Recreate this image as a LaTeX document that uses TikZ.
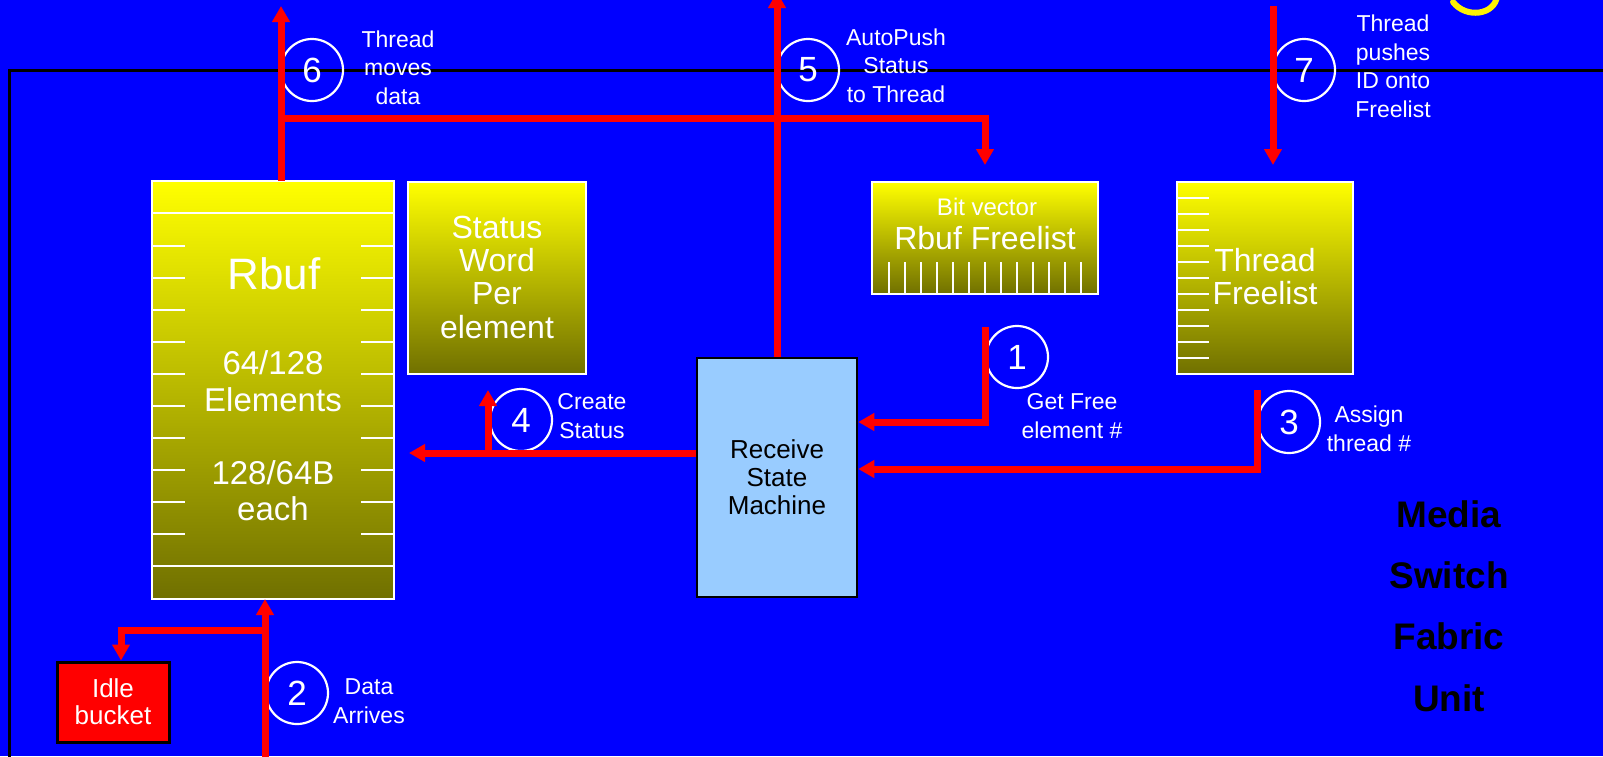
\documentclass[tikz,border=0pt]{standalone}
\usepackage{fontspec}
\setmainfont{Liberation Sans}
\usetikzlibrary{arrows.meta}
\definecolor{bgblue}{RGB}{0,0,255}
\definecolor{olivebot}{RGB}{112,112,0}
\definecolor{rsmblue}{RGB}{153,204,255}
\definecolor{flowred}{RGB}{255,0,0}
\begin{document}
\begin{tikzpicture}[x=1pt,y=-1pt,
  ybox/.style={draw=white, line width=2pt, top color=yellow, bottom color=olivebot, inner sep=0pt, outer sep=0pt},
  wline/.style={draw=white, line width=2pt},
  numc/.style={circle, draw=white, line width=2.2pt, minimum size=62pt, inner sep=0pt, text=white, font=\fontsize{35}{35}\selectfont},
  lbl/.style={text=white, align=center, inner sep=0pt, anchor=base, font=\fontsize{23}{28.5}\selectfont},
  btxt/.style={text=white, align=center, inner sep=0pt, anchor=base},
  flow/.style={draw=flowred, line width=7pt},
  redtip/.style={-{Triangle[length=16pt,width=17pt]}},
]
\useasboundingbox (0,0) rectangle (1603,756);
\fill[bgblue] (0,0) rectangle (1603,756);
\clip (0,0) rectangle (1603,756);

% outer frame
\draw[black, line width=3pt] (1620,70) -- (9,70) -- (9,790);

% partial yellow glyph at top right
\draw[yellow, line width=6pt, line cap=round] (1497,-4) .. controls (1495,15) and (1466,19) .. (1453,2);

% Rbuf
\node[ybox, minimum width=242pt, minimum height=418pt] (rbuf) at (273,390) {};
\draw[wline] (152,213) -- (394,213) (152,566) -- (394,566);
\foreach \yy in {246,278,...,534} {\draw[wline] (152,\yy) -- (185,\yy) (361,\yy) -- (394,\yy);}

% Status word
\node[ybox, minimum width=178pt, minimum height=192pt] (stat) at (497,278) {};

% Rbuf freelist
\node[ybox, minimum width=226pt, minimum height=112pt] (rfl) at (985,238) {};
\foreach \xx in {889,905,...,1081} {\draw[wline] (\xx,262) -- (\xx,294);}

% Thread freelist
\node[ybox, minimum width=176pt, minimum height=192pt] (tfl) at (1265,278) {};
\foreach \yy in {198,214,...,358} {\draw[wline] (1177,\yy) -- (1209,\yy);}

% Receive state machine
\node[draw=black, line width=2.5pt, fill=rsmblue, minimum width=160pt, minimum height=239pt, inner sep=0pt] (rsm) at (777,477.5) {};

% Idle bucket
\node[draw=black, line width=3pt, fill=red, minimum width=112pt, minimum height=80pt, inner sep=0pt] (idle) at (113,702) {};

% numbered circles
\node[numc] (c6) at (312,70) {6};
\node[numc] (c5) at (808,70) {5};
\node[numc] (c7) at (1304,70) {7};
\node[numc] (c1) at (1017,357) {1};
\node[numc] (c3) at (1289,422) {3};
\node[numc] (c4) at (521,420) {4};
\node[numc] (c2) at (297,693) {2};

% connectors
\coordinate (t6) at (281,6);
\coordinate (j6) at (281,118);
\draw[flow, redtip] ([xshift=8pt]rbuf.north) -- (t6);
\draw[flow, redtip] (j6) -| ([yshift=17pt]rfl.north);

\coordinate (t5) at (777,-8);
\draw[flow, redtip] (rsm.north) -- (t5);

\coordinate (s7) at (1273,6);
\draw[flow, redtip] (s7) -- ([xshift=8pt,yshift=17pt]tfl.north);

\coordinate (s1) at (985,327);
\coordinate (k1) at (985,422);
\draw[flow, redtip] (s1) -- (k1) -- (k1 -| rsm.east);

\coordinate (s3) at (1257,390);
\coordinate (k3) at (1257,469);
\draw[flow, redtip] (s3) -- (k3) -- (k3 -| rsm.east);

\coordinate (k4) at (488,453);
\coordinate (t4) at (409,453);
\draw[flow, redtip] (rsm.west |- k4) -- (t4);
\draw[flow, redtip, shorten >=16pt] (k4) -- (k4 |- stat.south);

\coordinate (s2) at (265,790);
\coordinate (k2) at (265,630);
\draw[flow, redtip] (s2) -- ([xshift=-8pt]rbuf.south);
\draw[flow, redtip] (k2) -| ([xshift=8pt]idle.north);

% labels (anchor = baseline of last line)
\node[lbl] (l6) at (398,104) {Thread\\moves\\data};
\node[lbl] (l5) at (896,102) {AutoPush\\Status\\to Thread};
\node[lbl] (l7) at (1393,117) {Thread\\pushes\\ID onto\\Freelist};
\node[lbl] (l1) at (1072,438) {Get Free\\element \#};
\node[lbl] (l3) at (1369,451) {Assign\\thread \#};
\node[lbl] (l4) at (592,438) {Create\\Status};
\node[lbl] (l2) at (369,723) {Data\\Arrives};

% box texts
\node[btxt, font=\fontsize{44}{44}\selectfont] (trbuf) at (274,289) {Rbuf};
\node[btxt, font=\fontsize{33}{37}\selectfont] (telem) at (273,411) {64/128\\Elements};
\node[btxt, font=\fontsize{33}{36}\selectfont] (teach) at (273,520) {128/64B\\each};
\node[btxt, font=\fontsize{32}{33.3}\selectfont] (tstat) at (497,338) {Status\\Word\\Per\\element};
\node[btxt, font=\fontsize{24}{24}\selectfont] (tbit) at (987,215) {Bit vector};
\node[btxt, font=\fontsize{32}{32}\selectfont] (trfl) at (985,249) {Rbuf Freelist};
\node[btxt, font=\fontsize{32}{33}\selectfont] (ttfl) at (1265,304) {Thread\\Freelist};
\node[btxt, text=black, font=\fontsize{26}{28}\selectfont] (trsm) at (777,514) {Receive\\State\\Machine};
\node[btxt, font=\fontsize{26}{27}\selectfont] (tidle) at (113,724) {Idle\\bucket};
\node[btxt, text=black, font=\fontsize{37}{61.3}\selectfont\bfseries] (tmsf) at (1449,711) {Media\\Switch\\Fabric\\Unit};
\end{tikzpicture}
\end{document}
